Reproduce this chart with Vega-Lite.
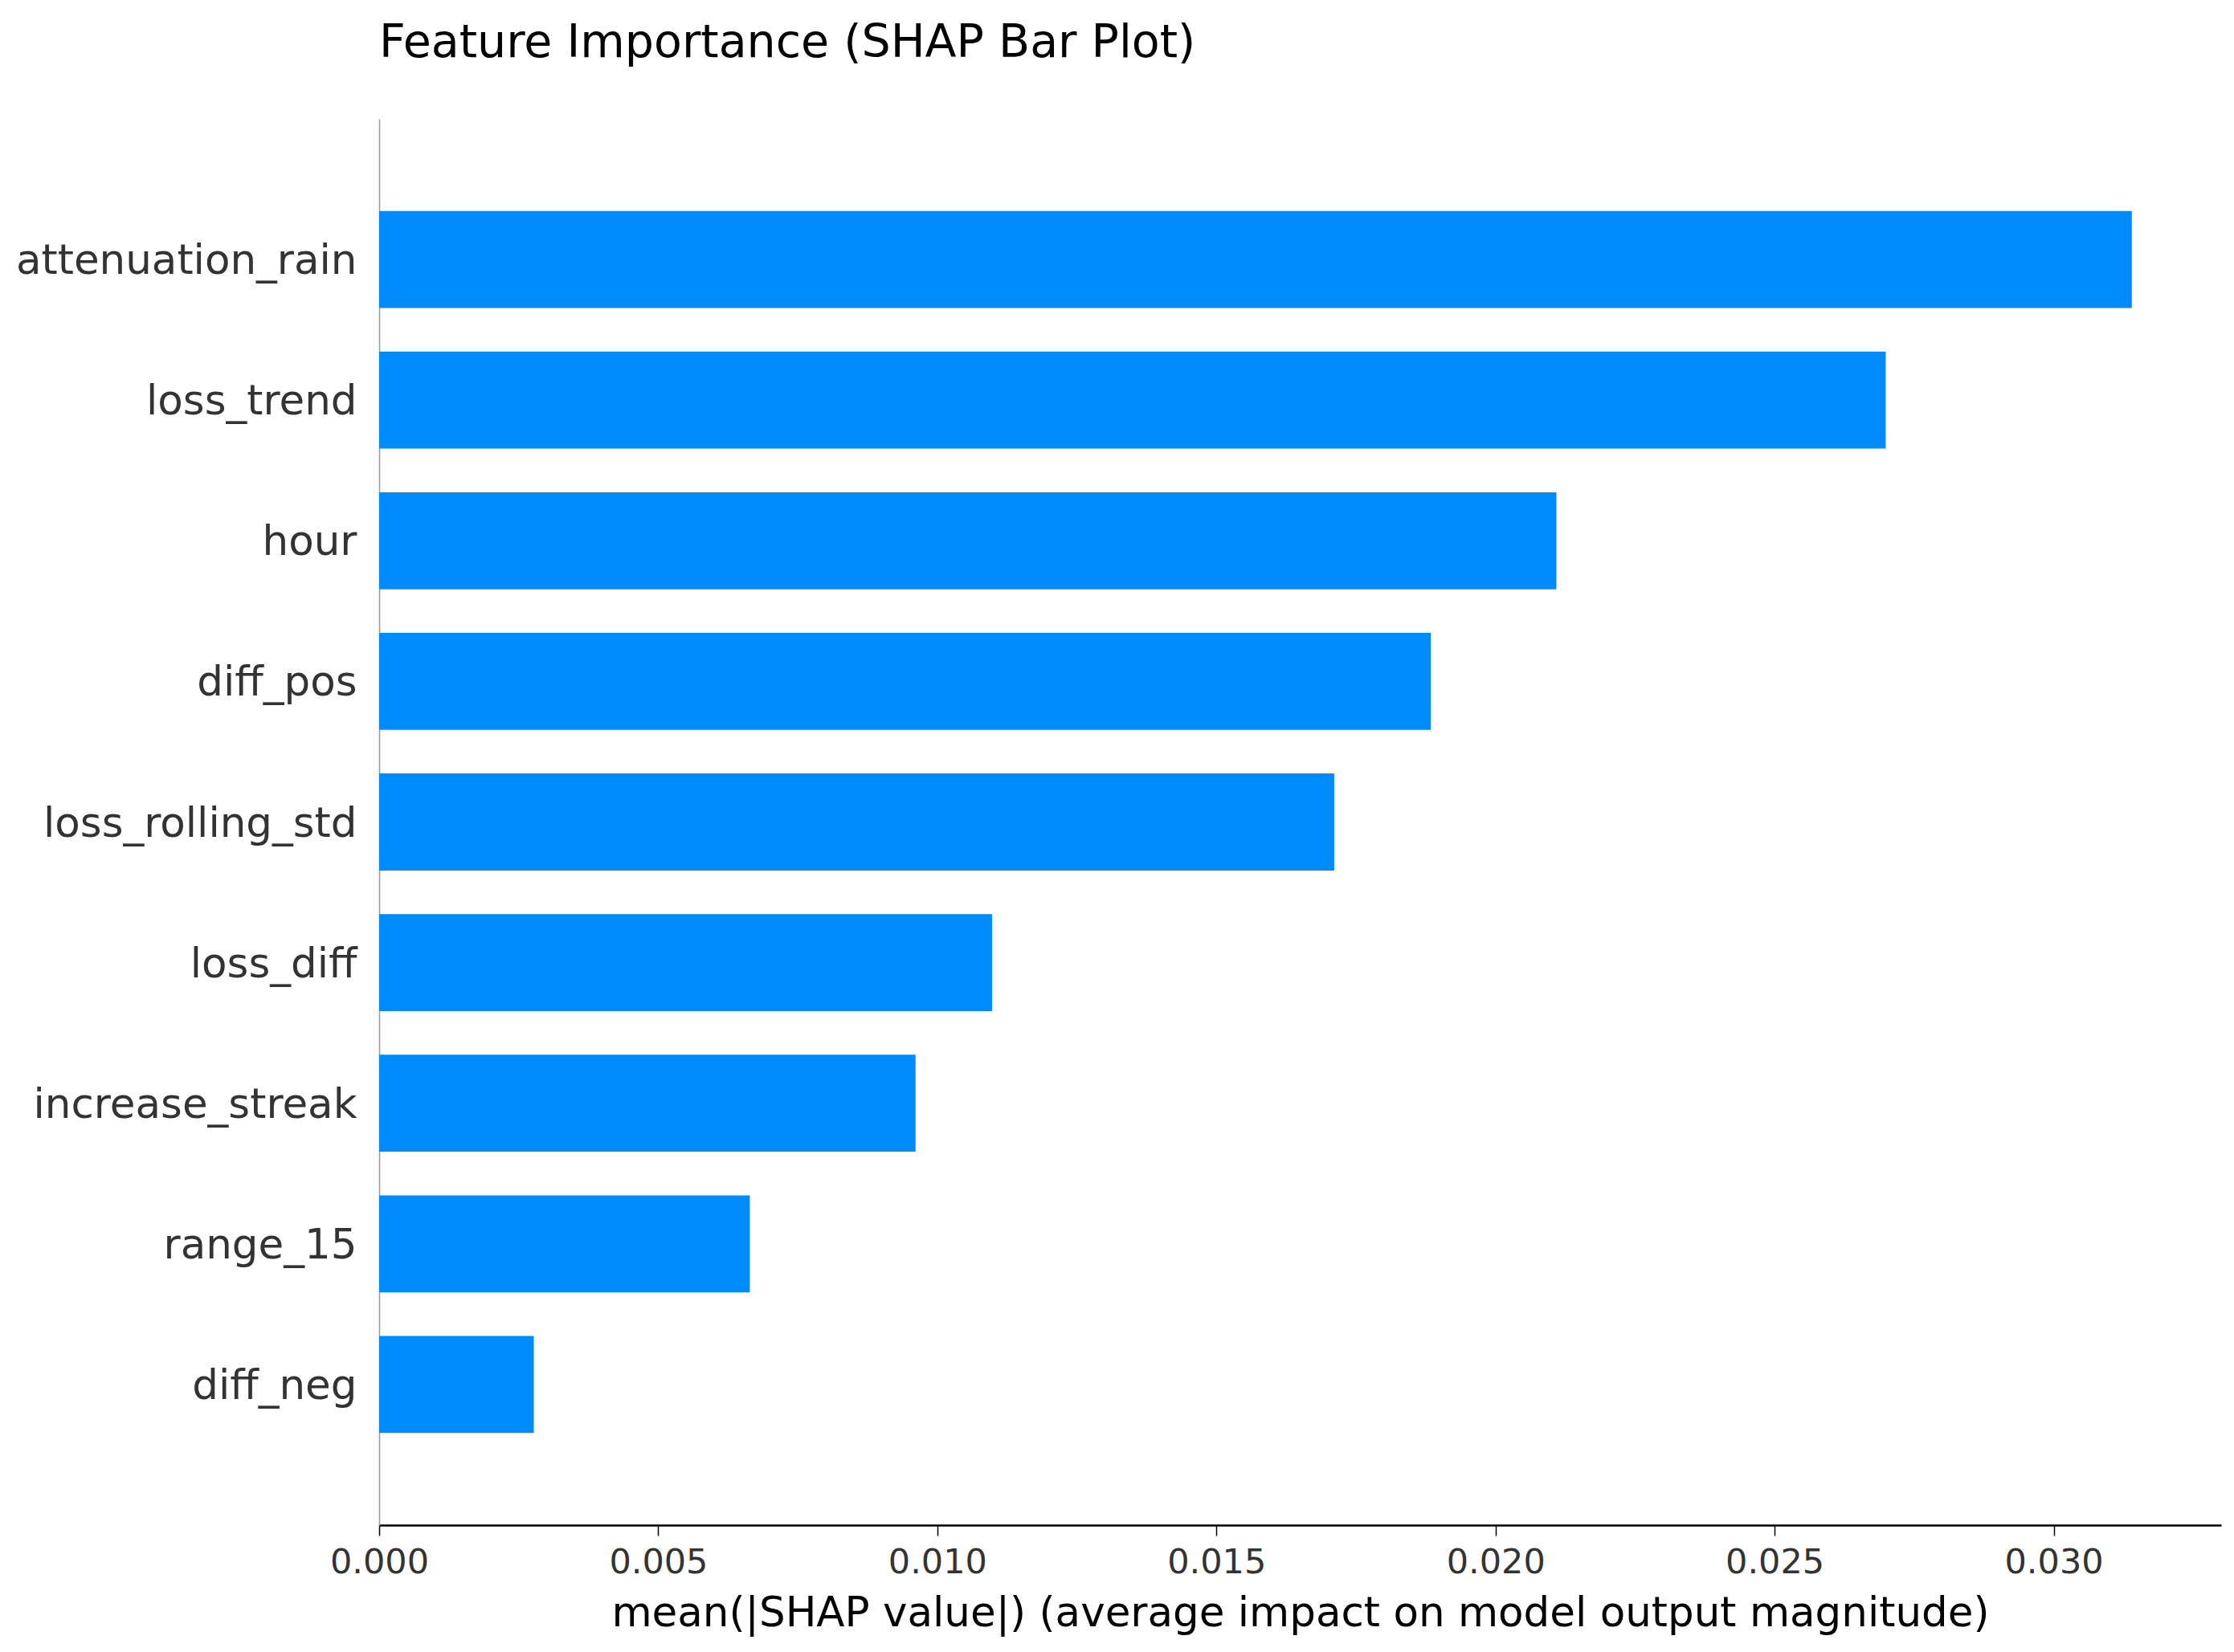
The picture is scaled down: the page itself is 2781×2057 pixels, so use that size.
{
  "$schema": "https://vega.github.io/schema/vega-lite/v6.json",
  "autosize": {"type": "none"},
  "padding": {"left": 472, "top": 148, "right": 16, "bottom": 158},
  "width": 2293,
  "height": 1751,
  "background": "white",
  "title": {
    "text": "Feature Importance (SHAP Bar Plot)",
    "anchor": "start",
    "frame": "group",
    "font": "DejaVu Sans",
    "fontSize": 57,
    "fontWeight": "normal",
    "color": "#000000",
    "baseline": "alphabetic",
    "offset": 20
  },
  "data": {
    "values": [
      {"feature": "attenuation_rain", "importance": 0.03140},
      {"feature": "loss_trend", "importance": 0.02699},
      {"feature": "hour", "importance": 0.02109},
      {"feature": "diff_pos", "importance": 0.01884},
      {"feature": "loss_rolling_std", "importance": 0.01711},
      {"feature": "loss_diff", "importance": 0.01098},
      {"feature": "increase_streak", "importance": 0.00961},
      {"feature": "range_15", "importance": 0.00664},
      {"feature": "diff_neg", "importance": 0.00277}
    ]
  },
  "mark": {"type": "bar", "color": "#008bfb"},
  "encoding": {
    "y": {
      "field": "feature",
      "type": "nominal",
      "sort": null,
      "scale": {"paddingInner": 0.31, "paddingOuter": 0.655},
      "axis": {
        "title": null,
        "ticks": false,
        "tickSize": 0,
        "labelPadding": 28,
        "labelLimit": 0,
        "labelOffset": 3,
        "labelFontSize": 51.5,
        "labelColor": "#333333",
        "domainColor": "#999999",
        "domainWidth": 1.5
      }
    },
    "x": {
      "field": "importance",
      "type": "quantitative",
      "scale": {"domain": [0, 0.033], "nice": false},
      "axis": {
        "title": "mean(|SHAP value|) (average impact on model output magnitude)",
        "values": [0, 0.005, 0.01, 0.015, 0.02, 0.025, 0.03],
        "format": ".3f",
        "grid": false,
        "tickSize": 13,
        "tickWidth": 1.5,
        "tickColor": "#000000",
        "domainColor": "#000000",
        "domainWidth": 2.5,
        "labelFlush": false,
        "labelFontSize": 43,
        "labelColor": "#333333",
        "labelPadding": 12,
        "titleFontSize": 51.5,
        "titleFontWeight": "normal",
        "titleColor": "#000000",
        "titlePadding": 16
      }
    }
  },
  "config": {
    "font": "DejaVu Sans",
    "view": {"stroke": null},
    "axis": {"labelFont": "DejaVu Sans", "titleFont": "DejaVu Sans"}
  }
}
